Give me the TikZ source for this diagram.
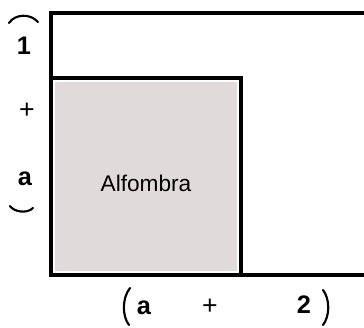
\documentclass[tikz,border=0pt]{standalone}
\usepackage{fontspec}
\setmainfont{Liberation Sans}
\usepackage{tikz}
\usetikzlibrary{calc}
\definecolor{rug}{RGB}{224,218,218}

\begin{document}
\begin{tikzpicture}[x=0.75pt,y=-0.75pt,
  every node/.style={font=\bfseries\fontsize{19}{19}\selectfont},
  plus/.style={font=\fontsize{20}{20}\selectfont},
  wall/.style={line width=2.3pt},
  hand/.style={line width=1.6pt,line cap=round}]
\useasboundingbox (0,0) rectangle (364,328);
\clip (0,0) rectangle (364,328);

% outer room and the carpet
\fill[rug] (55,82) rectangle (237,271);
\draw[wall] (51,13) rectangle (390,275);
\draw[wall] (51,78) rectangle (241,275);
\node (rug) at (146,183) [font=\fontsize{17}{17}\selectfont] {Alfombra};

% left side (1 + a)
\node (l1) at (24,46) {1};
\node (l2) at (27,111) [plus] {+};
\node (l3) at (25,179) {a};
\draw[hand] (9,23) .. controls (15,14) and (30,13) .. (38,22);
\draw[hand] (10,206) .. controls (14,212) and (27,214) .. (33,208);

% bottom side (a + 2)
\node (b1) at (144,308) {a};
\node (b2) at (210,307) [plus] {+};
\node (b3) at (304,305) {2};
\draw[hand] (130,288) .. controls (122,298) and (122,316) .. (129,325);
\draw[hand] (323,290) .. controls (330,299) and (330,316) .. (323,325);
\end{tikzpicture}
\end{document}
